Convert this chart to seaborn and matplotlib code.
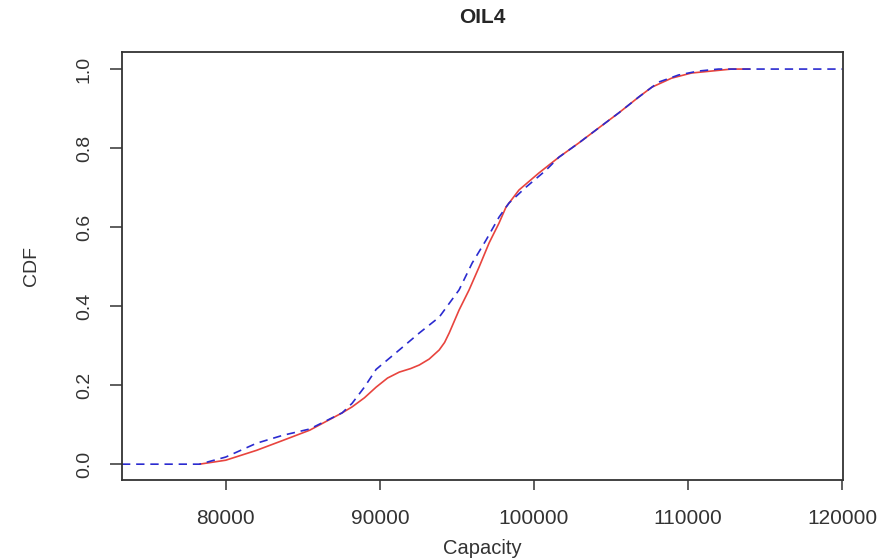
import matplotlib
matplotlib.use("Agg")
import matplotlib.pyplot as plt
import pandas as pd
import seaborn as sns

# empirical CDF of capacity (red, solid)
emp_capacity = [78300, 80000, 82000, 83700, 85450, 87560, 88200, 89000, 89760,
                90500, 91260, 92000, 92560, 93200, 93850, 94200, 94500, 95140,
                95790, 96440, 97090, 97730, 98190, 99030, 100320, 101620, 102910,
                104200, 105500, 106790, 107640, 108930, 110220, 111520, 112810,
                114000]
emp_cdf = [0.0, 0.010, 0.035, 0.060, 0.086, 0.130, 0.145, 0.168, 0.195,
           0.218, 0.233, 0.242, 0.251, 0.266, 0.289, 0.308, 0.332, 0.390,
           0.441, 0.499, 0.560, 0.610, 0.651, 0.694, 0.737, 0.777, 0.813,
           0.851, 0.889, 0.929, 0.954, 0.977, 0.990, 0.995, 1.0,
           1.0]

# simulated CDF (blue, dashed)
sim_capacity = [73270, 78300, 80000, 82000, 83700, 85450, 87560, 88200, 89000,
                89760, 91260, 92560, 93850, 95140, 95990, 96890, 97730, 98380,
                99480, 100780, 101620, 102910, 104200, 105500, 106790, 108090,
                109380, 110680, 111970, 120000]
sim_cdf = [0.0, 0.0, 0.018, 0.053, 0.073, 0.089, 0.130, 0.154, 0.195,
           0.240, 0.289, 0.332, 0.372, 0.441, 0.509, 0.567, 0.625, 0.661,
           0.701, 0.744, 0.777, 0.813, 0.851, 0.889, 0.929, 0.967,
           0.985, 0.995, 1.0, 1.0]

df_emp = pd.DataFrame({'Capacity': emp_capacity, 'CDF': emp_cdf})
df_sim = pd.DataFrame({'Capacity': sim_capacity, 'CDF': sim_cdf})

sns.set_style('white')
plt.rcParams['font.family'] = ['Liberation Sans', 'DejaVu Sans']

fig = plt.figure(figsize=(8.93, 5.6), dpi=100)
ax = fig.add_axes([0.1366, 0.1429, 0.8074, 0.7641])

sns.lineplot(data=df_emp, x='Capacity', y='CDF', ax=ax, color='#e8443e',
             linewidth=1.2, estimator=None)
sns.lineplot(data=df_sim, x='Capacity', y='CDF', ax=ax, color='#2b2bd0',
             linewidth=1.2, linestyle=(0, (5, 3.5)), estimator=None)

ax.set_xlim(73270, 120050)
ax.set_ylim(-0.04, 1.043)
ax.set_xticks([80000, 90000, 100000, 110000, 120000])
ax.set_xticklabels(['80000', '90000', '100000', '110000', '120000'])
ax.set_yticks([0.0, 0.2, 0.4, 0.6, 0.8, 1.0])
ax.set_yticklabels(['0.0', '0.2', '0.4', '0.6', '0.8', '1.0'], rotation=90, va='center')

for s in ax.spines.values():
    s.set_color('#333333')
    s.set_linewidth(1.3)

ax.tick_params(axis='x', bottom=True, length=7, width=1.1, color='#333333',
               labelsize=15, pad=14, labelcolor='#333333')
ax.tick_params(axis='y', left=True, length=9, width=1.1, color='#333333',
               labelsize=14, pad=12, labelcolor='#333333')
ax.set_xlabel('Capacity', fontsize=14.5, color='#333333', labelpad=8)
ax.set_ylabel('CDF', fontsize=14, color='#333333', labelpad=26)
ax.set_title('OIL4', fontsize=15, fontweight='bold', pad=21)

fig.savefig('out.png', dpi=100)
